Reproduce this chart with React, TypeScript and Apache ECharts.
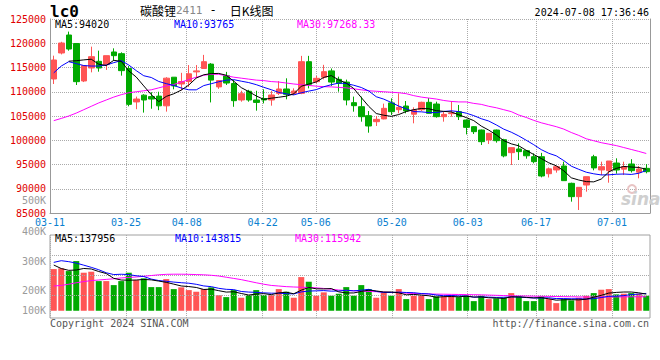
import React, { useEffect, useRef } from 'react';
import * as echarts from 'echarts';

// ---------- data ----------
const dates = [
  '03-11','03-12','03-13','03-14','03-15','03-18','03-19','03-20','03-21','03-22',
  '03-25','03-26','03-27','03-28','03-29','04-01','04-02','04-03','04-08','04-09',
  '04-10','04-11','04-12','04-15','04-16','04-17','04-18','04-19','04-22','04-23',
  '04-24','04-25','04-26','04-29','04-30','05-06','05-07','05-08','05-09','05-10',
  '05-13','05-14','05-15','05-16','05-17','05-20','05-21','05-22','05-23','05-24',
  '05-27','05-28','05-29','05-30','05-31','06-03','06-04','06-05','06-06','06-07',
  '06-11','06-12','06-13','06-14','06-17','06-18','06-19','06-20','06-21','06-24',
  '06-25','06-26','06-27','06-28','07-01','07-02','07-03','07-04','07-05','07-08',
];
const labelDates = ['03-11','03-25','04-08','04-22','05-06','05-20','06-03','06-17','07-01'];

const opens = [
  112630,117990,121700,119950,112220,114900,116270,115600,118200,117850,
  114800,107900,109300,109000,109100,107100,113000,111600,112100,114100,
  114800,115700,111000,113300,111700,108300,110100,108300,108600,108300,
  109670,110570,109670,109670,116200,112080,113000,114300,112560,112000,
  107750,106920,105070,103830,104400,107700,106300,107060,105370,106300,
  107820,107470,104860,105480,105890,104170,102800,102110,100050,102110,
  100120,97440,98200,97850,96610,96610,93100,93870,94690,91120,
  88370,90770,96600,93870,93730,95300,94040,95100,93420,94210,
];
const closes = [
  116550,120050,118810,112080,115380,117230,114900,117440,117440,114350,
  107400,108500,108300,108500,107100,112800,111200,112100,113700,114300,
  116200,112400,112300,111800,108160,109600,108300,107800,108300,109330,
  110570,109470,110150,116200,111530,112770,114140,112000,111740,108300,
  107130,104860,102940,104310,106580,105890,106790,106030,106240,107820,
  105550,104860,105340,105620,104860,102660,101770,99710,101430,99910,
  96780,98470,97650,96800,95580,92630,94100,94550,91670,88370,
  90290,92490,94300,94550,95720,93865,94550,93730,94070,93520,
];
const lows = [
  111600,117700,118470,111390,112000,114000,114140,114500,116410,113320,
  107000,106400,105700,106500,106200,105900,110500,110300,111000,112800,
  114700,107800,110600,111400,106900,107950,107950,106100,107600,107130,
  109330,108440,109330,109500,110700,111740,112560,111200,110020,107200,
  105890,103830,101560,102940,104310,105210,105550,105550,103490,106030,
  105550,104660,103830,104860,104170,101200,101290,99020,99230,99500,
  96480,94900,95930,96200,95240,92350,92320,93320,91670,87340,
  85620,89400,93800,92830,91250,93110,92830,93350,92150,93180,
];
const highs = [
  117440,120300,122400,120000,115400,119300,118470,117440,118950,118130,
  115300,109000,109500,109900,110000,113000,113000,113900,115500,115500,
  117600,115900,112400,114100,112400,110200,110400,110200,110500,110150,
  112200,112770,110700,117400,117400,113250,115550,114800,113110,112500,
  109000,108990,106030,105000,107550,108640,109670,108090,106790,107950,
  108700,107950,105890,108090,107270,104300,102900,102200,101500,102200,
  100300,98500,99360,98000,97300,97400,94380,94690,95580,91250,
  90290,92490,97000,95580,95720,96270,95580,96100,94690,95070,
];

const priceMA5 = [
  null,null,116300,116400,116570,116710,115680,115410,116480,116270,
  114310,113030,111200,109410,107960,109040,109580,110340,111380,112820,
  113500,113740,113780,113400,112170,110850,110030,109130,108430,108670,
  108860,109090,109560,111140,111580,112020,112960,113330,112440,111790,
  110660,108810,106990,105510,105160,104920,105300,105920,106310,106550,
  106490,106100,105960,105840,105250,104670,104050,102920,102090,101100,
  99920,99260,98850,97920,97060,96230,95350,94730,93710,92260,
  91800,91470,91420,92000,93470,94190,94600,94480,94390,94020,
];
const priceMA10 = [
  113900,115300,116200,115800,115400,115300,115300,115500,116000,116420,
  115510,114350,113300,112940,112120,111670,111300,110770,110400,110390,
  111270,111660,112060,112390,112500,112180,111890,111460,110920,110420,
  109860,109560,109350,109790,110130,110440,111030,111450,111790,111690,
  111340,110880,110160,108970,108480,107790,107050,106460,105910,105860,
  105700,105700,105940,106070,105900,105580,105080,104440,103960,103170,
  102290,101660,100890,100000,99080,98070,97310,96790,95810,94660,
  94010,93410,93080,92850,92870,92990,93040,92950,93190,93765,
];
const priceMA30 = [
  104040,104500,105000,105600,106300,107000,107700,108300,108900,109400,
  109800,110000,110200,110400,110800,111200,111500,112000,112500,113000,
  113400,113600,113600,113300,113000,112800,112600,112400,112300,112100,
  112000,111800,111600,111450,111300,111150,111050,111000,110900,110800,
  110600,110400,110200,110100,110000,109900,109800,109600,109200,108900,
  108700,108500,108200,108000,107900,107900,107600,107400,107000,106700,
  106300,105900,105200,104700,104100,103600,103200,102800,102300,101600,
  101000,100300,99900,99500,99200,98900,98500,98100,97700,97268.33,
];

const volumes = [
  345500,351700,328900,411900,315400,323700,245900,245900,212700,245900,
  315400,254200,268700,196100,196100,262500,179500,194000,171200,157700,
  179500,194000,129700,113100,171200,107900,129700,171200,129700,129700,
  179500,157700,107900,279100,240700,124500,152500,124500,141100,196100,
  124500,212700,179500,107900,152500,124500,179500,96500,124500,124500,
  96500,119300,119300,129700,113100,124500,79900,124500,96500,102700,
  107900,146300,119300,79900,79900,119300,96500,63300,96500,86100,
  107900,124500,146300,174300,179500,135900,141100,146300,141100,124500,
];
const volMA5 = [
  379000,350000,335000,338000,350700,346300,325200,308600,268700,254800,
  253200,254800,259400,256100,246100,235500,220600,205600,200700,193000,
  176400,179300,166400,154800,157500,143200,130300,138600,141900,133600,
  148000,153600,140900,170800,193000,182000,181000,184300,156700,147700,
  147700,159800,170800,164100,155400,155400,148800,132200,135500,129900,
  124300,112300,116800,117900,115600,121200,113300,114300,107700,105600,
  102300,115600,114500,111200,106700,108900,99000,87800,91100,92300,
  90100,95700,112300,127800,146500,152100,155400,155400,148800,137956,
];
const volMA10 = [
  401000,415000,407000,395000,378000,360000,340000,315000,300000,302700,
  299700,290000,284000,262400,250500,244300,237700,232500,228400,219500,
  205900,199900,186000,177700,175200,159800,154800,152500,148400,145600,
  145600,141900,139800,156400,163300,165000,167200,162600,163700,170400,
  164900,170400,177500,160400,151600,151600,154300,151500,149800,142700,
  139900,130500,124500,126700,122700,122700,112800,115600,112800,110600,
  111700,114400,114400,109500,106100,105600,107300,101200,101200,99500,
  99500,97300,100000,109500,119400,121100,125500,133800,138300,143815,
];
const volMA30 = [
  205000,210000,220000,232000,242000,250000,255000,260000,265000,272000,
  276000,280000,286000,292000,298000,302000,303000,303000,302000,300000,
  298000,294000,288000,278000,268000,258000,245000,232000,220000,210000,
  205000,200000,197000,195000,193000,190000,185000,178000,172000,168000,
  166000,163000,160000,158000,155000,152000,150000,146000,143000,141000,
  139000,138000,137000,136000,135000,134000,133000,132000,130000,128000,
  126000,124000,123000,122000,121000,120000,119000,118000,117000,116000,
  115000,114000,114000,114000,115000,115000,115000,116000,116000,115942,
];

const priceTicks = { min: 85000, max: 125000, step: 5000 };
const volTickLabels = ['500K', '400K', '300K', '200K', '100K'];
const priceMALabels = ['MA5:94020', 'MA10:93765', 'MA30:97268.33'];
const volMALabels = ['MA5:137956', 'MA10:143815', 'MA30:115942'];

// ---------- style ----------
const UP = '#ff5555';
const DOWN = '#00aa00';
const MONO = '"DejaVu Sans Mono", "Liberation Mono", monospace';
const CJK = '"Noto Sans CJK SC", sans-serif';
const GRID_COLOR = '#aaaaaa';
const BORDER = '#999999';
const DATE_BLUE = '#0a7fd0';

export default function App() {
  const ref = useRef<HTMLDivElement>(null);

  useEffect(() => {
    if (!ref.current) return;
    const chart = echarts.init(ref.current, null, { renderer: 'svg' });

    const candleData = dates.map((_, i) => [opens[i], closes[i], lows[i], highs[i]]);
    const volData = volumes.map((v, i) => ({
      value: v,
      itemStyle: { color: closes[i] >= opens[i] ? UP : DOWN },
    }));
    const markIdx = labelDates.map((d) => dates.indexOf(d));
    const isMark = (i: number) => markIdx.indexOf(i) >= 0;

    const maLine = (data: (number | null)[], color: string, ax: number) => ({
      type: 'line',
      data,
      xAxisIndex: ax,
      yAxisIndex: ax,
      symbol: 'none',
      showSymbol: false,
      silent: true,
      lineStyle: { color, width: 1 },
      itemStyle: { color },
      z: 5,
    });

    const volGridLines = [126000, 292000, 458000];
    const volLabelY = [200, 231, 261, 290, 310.5];

    const txt = (text: string, x: number, y: number, fill: string, font: string, align = 'left') => ({
      type: 'text',
      x,
      y,
      silent: true,
      style: { text, fill, font, align, verticalAlign: 'middle', textAlign: align, textVerticalAlign: 'middle' },
      z: 100,
    });

    const option: any = {
      animation: false,
      backgroundColor: '#ffffff',
      grid: [
        { left: 50, top: 19, width: 600, height: 194, show: false },
        { left: 50, top: 235, width: 600, height: 83, show: true, borderColor: '#a0a0a0', borderWidth: 1, backgroundColor: 'transparent' },
      ],
      xAxis: [
        {
          type: 'category', gridIndex: 0, data: dates, boundaryGap: true, position: 'bottom',
          axisLine: { show: true, lineStyle: { color: BORDER } },
          axisTick: { show: false }, axisLabel: { show: false }, splitLine: { show: false },
        },
        {
          type: 'category', gridIndex: 0, data: dates, boundaryGap: false, position: 'bottom',
          axisLine: { show: false }, axisTick: { show: false },
          axisLabel: {
            show: true, interval: (i: number) => isMark(i), color: DATE_BLUE,
            fontFamily: MONO, fontSize: 10, margin: 4,
          },
          splitLine: { show: true, interval: (i: number) => isMark(i), lineStyle: { color: GRID_COLOR, type: 'dotted', width: 1 } },
        },
        {
          type: 'category', gridIndex: 1, data: dates, boundaryGap: true, position: 'bottom',
          axisLine: { show: false }, axisTick: { show: false }, axisLabel: { show: false }, splitLine: { show: false },
        },
        {
          type: 'category', gridIndex: 1, data: dates, boundaryGap: false, position: 'bottom',
          axisLine: { show: false }, axisTick: { show: false }, axisLabel: { show: false },
          splitLine: { show: true, interval: (i: number) => isMark(i), lineStyle: { color: GRID_COLOR, type: 'dotted', width: 1 } },
        },
      ],
      yAxis: [
        {
          type: 'value', gridIndex: 0, min: priceTicks.min, max: priceTicks.max, interval: priceTicks.step,
          axisLine: { show: true, lineStyle: { color: BORDER } }, axisTick: { show: false },
          axisLabel: {
            color: '#e00000', fontFamily: MONO, fontSize: 10, margin: 4, padding: [0, 0, 4, 0],
            formatter: (v: number) => String(v),
          },
          splitLine: { show: true, lineStyle: { color: GRID_COLOR, type: 'dotted', width: 1 } },
        },
        {
          type: 'value', gridIndex: 1, min: -60000, max: 628000,
          axisLine: { show: false }, axisTick: { show: false }, axisLabel: { show: false }, splitLine: { show: false },
        },
        {
          type: 'value', gridIndex: 0, position: 'right', min: priceTicks.min, max: priceTicks.max,
          axisLine: { show: true, lineStyle: { color: BORDER } }, axisTick: { show: false },
          axisLabel: { show: false }, splitLine: { show: false },
        },
      ],
      series: [
        {
          type: 'candlestick', data: candleData, xAxisIndex: 0, yAxisIndex: 0, barWidth: 6, silent: true,
          itemStyle: { color: UP, color0: DOWN, borderColor: UP, borderColor0: DOWN, borderWidth: 1 },
          z: 3,
        },
        maLine(priceMA30, '#ff00ff', 0),
        maLine(priceMA10, '#0000ff', 0),
        maLine(priceMA5, '#000000', 0),
        {
          type: 'line', data: [], xAxisIndex: 2, yAxisIndex: 1, z: 1, silent: true,
          markLine: {
            silent: true, symbol: ['none', 'none'], label: { show: false },
            lineStyle: { color: GRID_COLOR, type: 'dotted', width: 1 },
            data: volGridLines.map((v) => ({ yAxis: v })),
          },
        },
        { type: 'bar', data: volData, xAxisIndex: 2, yAxisIndex: 1, barWidth: 6, silent: true, z: 3 },
        { ...maLine(volMA30, '#ff00ff', 2), yAxisIndex: 1 },
        { ...maLine(volMA10, '#0000ff', 2), yAxisIndex: 1 },
        { ...maLine(volMA5, '#000000', 2), yAxisIndex: 1 },
      ],
      graphic: {
        elements: [
          txt('lc0', 50, 11, '#000000', `bold 16px ${MONO}`),
          {
            type: 'text', x: 140, y: 10, silent: true, z: 100,
            style: {
              text: '{a|碳酸锂}{b|2411}{c|-}{a|日K线图}',
              verticalAlign: 'middle', textVerticalAlign: 'middle',
              rich: {
                a: { fill: '#000000', color: '#000000', fontSize: 12, fontFamily: CJK },
                b: { fill: '#888888', color: '#888888', fontSize: 11, fontFamily: MONO },
                c: { fill: '#000000', color: '#000000', fontSize: 12, fontFamily: MONO, padding: [0, 13, 0, 7] },
              },
            },
          },
          txt('2024-07-08 17:36:46', 649, 12, '#000000', `10px ${MONO}`, 'right'),
          txt(priceMALabels[0], 55, 24, '#000000', `10px ${MONO}`),
          txt(priceMALabels[1], 174, 24, '#0000ff', `10px ${MONO}`),
          txt(priceMALabels[2], 297, 24, '#ff00ff', `10px ${MONO}`),
          txt(volMALabels[0], 55, 238.5, '#000000', `10px ${MONO}`),
          txt(volMALabels[1], 175, 238.5, '#0000ff', `10px ${MONO}`),
          txt(volMALabels[2], 295, 238.5, '#ff00ff', `10px ${MONO}`),
          ...volTickLabels.map((t, k) => txt(t, 46, volLabelY[k], '#9a9a9a', `10px ${MONO}`, 'right')),
          txt('Copyright 2024 SINA.COM', 50, 323.5, '#555555', `10px ${MONO}`),
          txt('http://finance.sina.com.cn', 649, 323.5, '#555555', `10px ${MONO}`, 'right'),
          {
            type: 'circle', silent: true, z: 90,
            shape: { cx: 632, cy: 189, r: 4 },
            style: { fill: 'none', stroke: '#e8c4c4', lineWidth: 2 },
          },
          txt('sina', 621, 199, '#cfcfcf', `bold italic 17px "DejaVu Sans", sans-serif`),
        ],
      },
    };

    chart.setOption(option);
    return () => chart.dispose();
  }, []);

  return (
    <div
      ref={ref}
      style={{ position: 'absolute', left: 0, top: 0, width: 660, height: 360, background: '#ffffff' }}
    />
  );
}
